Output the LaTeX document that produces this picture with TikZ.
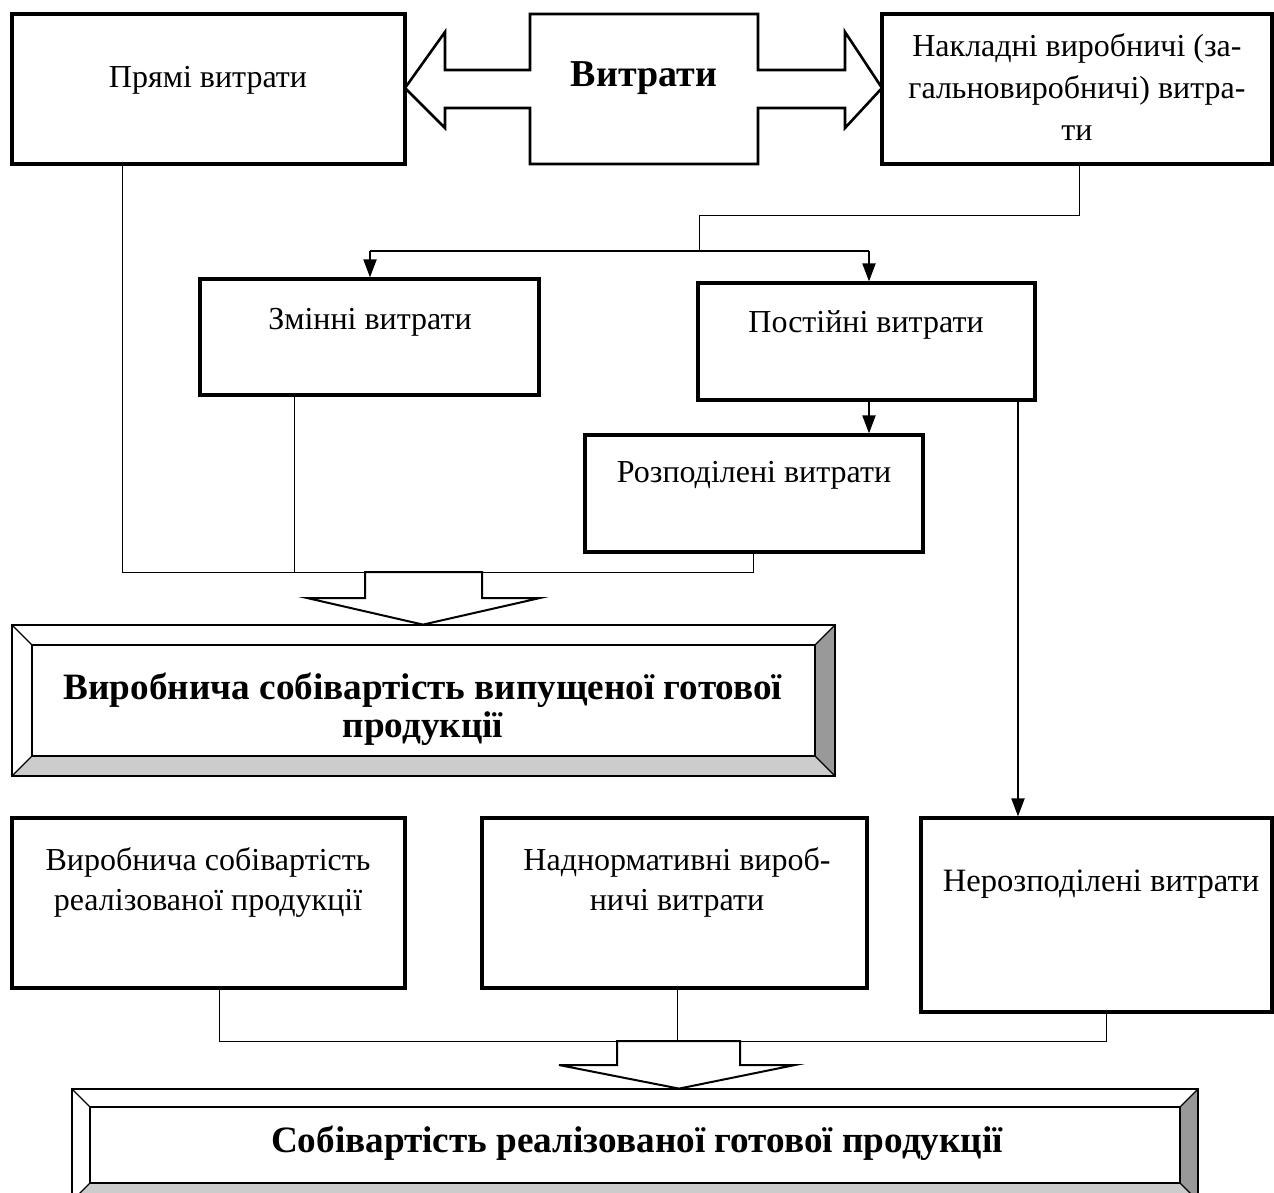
\documentclass[tikz,border=0pt]{standalone}
\usepackage{fontspec}
\setmainfont{Liberation Serif}
\usetikzlibrary{arrows.meta,fit,calc}
\newcommand\mybevel[5]{%
  \fill[white] (#1,#2) rectangle (#3,#4);
  \fill[black!40] (#3,#2) -- (#3,#4) -- ({#3-#5},{#4-#5}) -- ({#3-#5},{#2+#5}) -- cycle;
  \fill[black!20] (#1,#4) -- (#3,#4) -- ({#3-#5},{#4-#5}) -- ({#1+#5},{#4-#5}) -- cycle;
  \draw[line width=0.8pt] ({#1+#5},{#2+#5}) rectangle ({#3-#5},{#4-#5});
  \draw[line width=0.6pt] (#1,#2) -- ({#1+#5},{#2+#5}) (#3,#2) -- ({#3-#5},{#2+#5})
     (#1,#4) -- ({#1+#5},{#4-#5}) (#3,#4) -- ({#3-#5},{#4-#5});
  \draw[line width=1.4pt] (#1,#2) rectangle (#3,#4);
}
\begin{document}
\begin{tikzpicture}[x=0.5pt,y=-0.5pt,
 box/.style={draw, line width=1.6pt, inner sep=0pt},
 txt/.style={font=\fontsize{16}{20}\selectfont, align=center, inner sep=0pt},
 btxt/.style={font=\fontsize{18.6}{19}\selectfont\bfseries, align=center, inner sep=0pt},
 thinline/.style={line width=0.5pt},
 arr/.style={line width=1pt, -{Triangle[length=9pt,width=6.5pt]}},
 blockarrow/.style={draw, line width=1pt, fill=white, line join=miter},
]
\useasboundingbox (0,0) rectangle (1274,1193);

% boxes
\node[box, fit={(12,14)(405,164)}] (pv) {};
\node[box, fit={(882,14)(1272,164)}] (nv) {};
\node[box, fit={(200,279)(539,395)}] (zm) {};
\node[box, fit={(698,283)(1035,400)}] (pt) {};
\node[box, fit={(585,435)(923,552)}] (rz) {};
\node[box, fit={(12,818)(405,988)}] (b1) {};
\node[box, fit={(482,818)(867,988)}] (b2) {};
\node[box, fit={(921,818)(1272,1012)}] (nr) {};

% double block arrow
\draw[line width=1.3pt, line join=miter] (405,88) -- (445,32) -- (445,70) -- (530,70) -- (530,14) -- (758,14)
  -- (758,70) -- (845,70) -- (845,32) -- (882,88) -- (845,128) -- (845,108) -- (758,108)
  -- (758,164) -- (530,164) -- (530,108) -- (445,108) -- (445,128) -- cycle;

% bevel boxes
\mybevel{12}{625}{835}{776}{20}
\node[inner sep=0pt, fit={(12,625)(835,776)}] (vs) {};
\mybevel{72}{1089}{1198}{1201}{18}
\node[inner sep=0pt, fit={(72,1089)(1198,1201)}] (sr) {};

% texts
\node[txt] (tpv) at (208,80) {Прямі витрати};
\node[btxt, font=\fontsize{19}{20}\selectfont\bfseries] (tv) at (644,78) {Витрати};
\node[txt, font=\fontsize{16}{21}\selectfont] (tnv) at (1077,87) {Накладні виробничі (за-\\гальновиробничі) витра-\\ти};
\node[txt] (tzm) at (370,322) {Змінні витрати};
\node[txt] (tpt) at (866,325) {Постійні витрати};
\node[txt] (trz) at (754,475) {Розподілені витрати};
\node[btxt] (tvs) at (423,709) {Виробнича собівартість випущеної готової\\продукції};
\node[txt] (tb1) at (208,882) {Виробнича собівартість\\реалізованої продукції};
\node[txt] (tb2) at (677,882) {Наднормативні вироб-\\ничі витрати};
\node[txt, font=\fontsize{16.3}{20}\selectfont] (tnr) at (1101,884) {Нерозподілені витрати};
\node[btxt] (tsr) at (637,1143) {Собівартість реалізованої готової продукції};

% connectors: top split
\coordinate (nvA) at (1079,215);
\coordinate (spA) at (699,215);
\coordinate (spB) at (699,251);
\coordinate (spL) at (370,251);
\coordinate (spR) at (869,251);
\draw[thinline] (nv.south -| nvA) -- (nvA) -- (spA) -- (spB);
\draw[line width=0.9pt] (spL) -- (spR);
\draw[arr] (spL) -- (zm.north -| spL);
\draw[arr] (spR) -- (pt.north -| spR);
\draw[arr] (pt.south -| spR) -- (rz.north -| spR);
\coordinate (ptR) at (1018,0);
\draw[arr] (pt.south -| ptR) -- (nr.north -| ptR);

% collect 1
\coordinate (c1L) at (122,572);
\coordinate (c1M) at (294,572);
\coordinate (c1R) at (753,572);
\draw[thinline] (pv.south -| c1L) -- (c1L) -- (c1R) -- (rz.south -| c1R);
\draw[thinline] (zm.south -| c1M) -- (c1M);

% block arrow 1
\draw[blockarrow] (365,572) -- (482,572) -- (482,598) -- (540,598) -- (vs.north -| 423,0) -- (307,598) -- (365,598) -- cycle;

% collect 2
\coordinate (c2L) at (219,1041);
\coordinate (c2M) at (677,1041);
\coordinate (c2R) at (1106,1041);
\draw[thinline] (b1.south -| c2L) -- (c2L) -- (c2R) -- (nr.south -| c2R);
\draw[thinline] (b2.south -| c2M) -- (c2M);

% block arrow 2
\draw[blockarrow] (617,1041) -- (740,1041) -- (740,1065) -- (795,1065) -- (sr.north -| 679,0) -- (559,1065) -- (617,1065) -- cycle;
\end{tikzpicture}
\end{document}
